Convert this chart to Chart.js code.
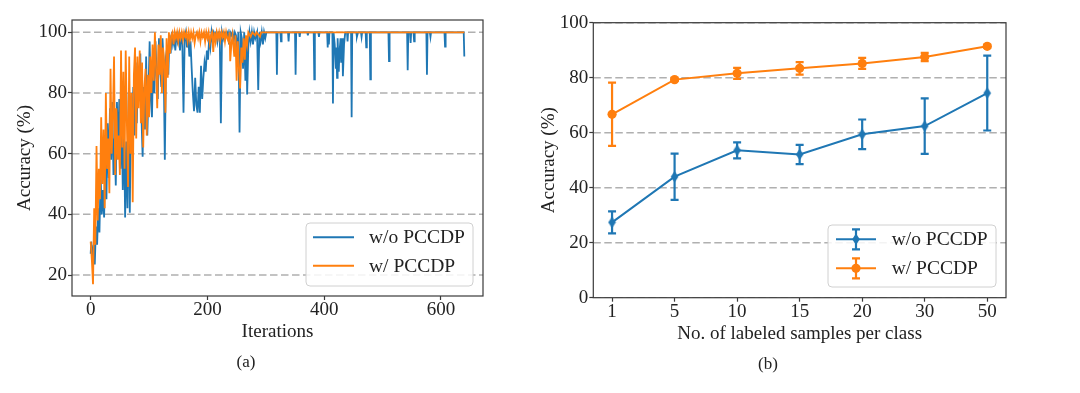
<!DOCTYPE html>
<html>
<head>
<meta charset="utf-8">
<script src="https://cdn.jsdelivr.net/npm/chart.js@4.4.0/dist/chart.umd.min.js"></script>
<style>
  html, body { margin: 0; padding: 0; background: #fff; }
  body { width: 1080px; height: 393px; position: relative; overflow: hidden;
         font-family: "Liberation Serif", "DejaVu Serif", serif; }
  canvas { position: absolute; top: 0; }
  #chartA { left: 0; }
  #chartB { left: 530px; }
  .cap { position: absolute; font-size: 17px; color: #222; transform: translate(-50%, -50%); }
</style>
</head>
<body>
<canvas id="chartA" width="540" height="393"></canvas>
<canvas id="chartB" width="550" height="393"></canvas>
<div class="cap" style="left:246px;top:362px">(a)</div>
<div class="cap" style="left:768px;top:364px">(b)</div>
<script>
var BLUE = '#1f77b4', ORANGE = '#ff7f0e';
var SERIF = '"Liberation Serif", "Times New Roman", serif';
var seriesNames = ['w/o PCCDP', 'w/ PCCDP'];

// ---- (a) accuracy over training iterations ----
var iterTicks = [0, 200, 400, 600];
var accTicksA = [20, 40, 60, 80, 100];

var woIter = [
  0, 1, 3, 5, 7, 9, 11, 13, 15, 17,
  19, 21, 23, 25, 27, 29, 31, 33, 35, 37,
  39, 41, 43, 45, 47, 49, 51, 53, 55, 57,
  59, 61, 63, 65, 67, 69, 71, 73, 75, 77,
  79, 81, 83, 85, 87, 89, 91, 93, 95, 97,
  99, 101, 103, 105, 107, 109, 111, 113, 115, 117,
  119, 121, 123, 125, 127, 129, 131, 133, 135, 137,
  139, 141, 143, 145, 147, 149, 151, 153, 155, 157,
  159, 161, 163, 165, 167, 169, 171, 173, 175, 177,
  179, 181, 183, 185, 187, 189, 191, 193, 195, 197,
  199, 201, 203, 205, 207, 209, 211, 213, 215, 217,
  219, 221, 223, 225, 227, 229, 231, 233, 235, 237,
  239, 241, 243, 245, 247, 249, 251, 253, 255, 257,
  259, 261, 263, 265, 267, 268, 270, 272, 274, 276,
  278, 280, 282, 285, 287, 289, 291, 293, 295, 297,
  299, 301, 318, 319, 320, 325, 326, 327, 338, 339,
  340, 350, 351, 352, 357, 358, 359, 371, 372, 373,
  382, 383, 384, 390, 391, 392, 405, 406, 407, 408,
  409, 414, 415, 416, 418, 420, 421, 422, 423, 425,
  426, 428, 429, 431, 432, 434, 436, 439, 440, 441,
  446, 447, 448, 455, 456, 458, 463, 464, 465, 471,
  472, 473, 478, 479, 480, 510, 511, 512, 542, 543,
  544, 547, 548, 549, 553, 554, 555, 575, 576, 577,
  581, 582, 583, 606, 607, 608, 639, 640
];
var woAcc = [
  27, 31, 25, 30, 23.5, 36, 30, 42, 34, 53,
  40, 48, 39, 60, 45, 70, 52, 75, 58, 77,
  53, 65, 49.5, 77, 60, 78, 55, 72, 48, 70,
  39, 64, 42, 80, 40.5, 75, 62, 82, 66, 90,
  70, 88, 78, 93, 72, 59, 82, 68, 92, 66,
  80, 97, 78, 72, 92, 80, 97, 86, 78, 98,
  88, 82, 98, 90, 58, 92, 95, 86, 99, 93,
  100, 96, 98, 94, 100, 97, 99, 94, 100, 96,
  73.5, 98, 100, 95, 99, 92, 97, 88, 80, 74,
  85, 76, 73.5, 82, 73.5, 89, 78, 85, 90, 87,
  94, 91, 98, 95, 100, 97, 100, 99, 100, 97,
  100, 100, 70, 100, 98, 100, 100, 99, 100, 96,
  100, 99, 100, 97, 100, 99, 93, 100, 67, 100,
  98, 88, 100, 84, 96, 79.5, 95, 100, 97, 100,
  96, 100, 98, 100, 81, 100, 97, 100, 96, 100,
  98, 100, 100, 86, 100, 100, 97, 100, 100, 97,
  100, 100, 86, 100, 100, 98.5, 100, 100, 99, 100,
  100, 84.5, 100, 100, 98.5, 100, 100, 95, 100, 96,
  100, 100, 76.5, 100, 96, 88, 95, 85, 98, 87,
  93, 98, 90, 98, 85.5, 96, 100, 100, 97, 100,
  100, 72, 100, 100, 98.5, 100, 100, 98.5, 100, 100,
  95, 100, 100, 84.5, 100, 100, 90.5, 100, 100, 87.5,
  100, 100, 96.5, 100, 100, 97, 100, 100, 86, 100,
  100, 98.5, 100, 100, 95.3, 100, 100, 92
];

var wIter = [
  0, 2, 4, 6, 8, 10, 12, 14, 16, 18,
  20, 22, 24, 26, 28, 30, 32, 34, 36, 38,
  40, 42, 44, 46, 48, 50, 52, 54, 56, 58,
  60, 62, 64, 66, 68, 70, 72, 74, 76, 78,
  80, 82, 84, 86, 88, 90, 92, 94, 96, 98,
  100, 102, 104, 106, 108, 110, 112, 114, 116, 118,
  120, 122, 124, 126, 128, 130, 132, 134, 136, 138,
  140, 142, 144, 146, 148, 150, 152, 154, 156, 158,
  160, 162, 164, 166, 168, 170, 172, 174, 176, 178,
  180, 182, 184, 186, 188, 190, 192, 194, 196, 198,
  200, 202, 204, 206, 208, 210, 212, 214, 216, 218,
  220, 222, 224, 226, 228, 230, 232, 234, 236, 238,
  239, 241, 243, 246, 248, 250, 252, 254, 256, 258,
  260, 262, 264, 266, 268, 270, 274, 277, 282, 284,
  290, 292, 640
];
var wAcc = [
  31, 25, 17, 42, 30, 62.5, 38, 55, 45, 72,
  50, 68, 42, 80, 55, 65, 47, 88, 60, 72,
  92, 53, 75, 58, 66, 53, 94, 62, 87, 55,
  94, 70, 49, 92, 60, 80, 44, 86, 95, 65,
  92, 75, 94, 70, 90, 62, 82, 88, 66, 86,
  72, 92, 80, 96, 84, 100, 88, 75, 96, 86,
  99, 80, 95, 90, 73.5, 98, 85, 100, 93, 99,
  100, 96, 100, 98, 100, 97, 100, 98, 100, 97.5,
  100, 98.5, 100, 97, 100, 97.5, 100, 98, 100, 96.5,
  99, 100, 98, 100, 97, 100, 98.5, 100, 97, 100,
  98, 100, 96.5, 99, 100, 93.5, 100, 97, 100, 98,
  100, 97.5, 100, 98.5, 100, 97, 100, 98, 97, 100,
  90.5, 96, 99, 92, 99, 84, 97, 88, 81.5, 95,
  90, 98, 91, 99, 96, 100, 98.5, 100, 99, 100,
  98.5, 100, 100
];

// ---- (b) accuracy vs. labeled samples ----
var sampleLabels = ['1', '5', '10', '15', '20', '30', '50'];
var accTicksB = [0, 20, 40, 60, 80, 100];
var woMean = [27.4, 44.0, 53.6, 52.1, 59.4, 62.4, 74.4];
var woErr  = [4.0, 8.4, 2.9, 3.5, 5.4, 10.1, 13.6];
var wMean  = [66.7, 79.3, 81.6, 83.4, 85.2, 87.5, 91.4];
var wErr   = [11.5, 0.5, 2.0, 2.3, 2.0, 1.5, 0.6];

Chart.defaults.font.family = SERIF;
Chart.defaults.color = '#222';

function pairs(xs, ys) {
  return xs.map(function(x, i) { return { x: x, y: ys[i] }; });
}

function fixedTicks(list) {
  return function(scale) {
    scale.ticks = list.map(function(v) { return { value: v }; });
  };
}

// thin diamond marker like matplotlib 'd'
function diamondPath(ctx, x, y, hw, hh) {
  ctx.beginPath();
  ctx.moveTo(x, y - hh);
  ctx.lineTo(x + hw, y);
  ctx.lineTo(x, y + hh);
  ctx.lineTo(x - hw, y);
  ctx.closePath();
}
function diamondImage(color) {
  var c = document.createElement('canvas');
  c.width = 9; c.height = 13;
  var g = c.getContext('2d');
  g.fillStyle = color;
  diamondPath(g, 4.5, 6.5, 3.8, 5.8);
  g.fill();
  return c;
}

// dashed y grid + dark frame, matplotlib look
var framePlugin = {
  id: 'frame',
  beforeDatasetsDraw: function(chart) {
    var ctx = chart.ctx, a = chart.chartArea, ys = chart.scales.y;
    ctx.save();
    ctx.beginPath();
    ctx.rect(a.left, a.top, a.right - a.left, a.bottom - a.top);
    ctx.clip();
    ctx.strokeStyle = '#b0b0b0';
    ctx.lineWidth = 1.5;
    ctx.setLineDash([7.5, 3.5]);
    ys.ticks.forEach(function(t) {
      var py = ys.getPixelForValue(t.value);
      ctx.beginPath();
      ctx.moveTo(a.left, py);
      ctx.lineTo(a.right, py);
      ctx.stroke();
    });
    ctx.restore();
  },
  afterDraw: function(chart) {
    var ctx = chart.ctx, a = chart.chartArea;
    ctx.save();
    ctx.strokeStyle = '#3a3a3a';
    ctx.lineWidth = 1.2;
    ctx.strokeRect(a.left, a.top, a.right - a.left, a.bottom - a.top);
    ctx.restore();
  }
};

function legendBox(ctx, x, y, w, h) {
  ctx.save();
  ctx.fillStyle = 'rgba(255,255,255,0.85)';
  ctx.strokeStyle = '#d0d0d0';
  ctx.lineWidth = 1;
  ctx.beginPath();
  ctx.roundRect(x, y, w, h, 4);
  ctx.fill();
  ctx.stroke();
  ctx.restore();
}

function axisOptions(ticksList, sizeKey, size, titleText, titlePad, extra) {
  var o = {
    type: 'linear',
    afterBuildTicks: fixedTicks(ticksList),
    afterFit: function(s) { s[sizeKey] = size; },
    grid: { drawOnChartArea: false, drawTicks: true, tickLength: 4, tickColor: '#3a3a3a', tickWidth: 1.2 },
    border: { display: false },
    ticks: { font: { size: 19, lineHeight: 1 }, color: '#222', padding: 1, autoSkip: false, maxRotation: 0 },
    title: { display: true, text: titleText, font: { size: 19, lineHeight: 1.2 }, color: '#222', padding: titlePad }
  };
  for (var k in extra) o[k] = extra[k];
  return o;
}

// ---------- chart (a) ----------
var legendA = {
  id: 'legendA',
  afterDraw: function(chart) {
    var ctx = chart.ctx;
    legendBox(ctx, 306, 223, 167, 63);
    var rows = [[BLUE, 237.3], [ORANGE, 265.7]];
    ctx.save();
    rows.forEach(function(r, i) {
      ctx.strokeStyle = r[0];
      ctx.lineWidth = 2;
      ctx.beginPath();
      ctx.moveTo(313, r[1]);
      ctx.lineTo(354, r[1]);
      ctx.stroke();
      ctx.fillStyle = '#222';
      ctx.font = '19.5px ' + SERIF;
      ctx.textBaseline = 'middle';
      ctx.fillText(seriesNames[i], 369, r[1] + 1);
    });
    ctx.restore();
  }
};

new Chart(document.getElementById('chartA'), {
  type: 'line',
  data: {
    datasets: [
      { label: seriesNames[0], data: pairs(woIter, woAcc), borderColor: BLUE, borderWidth: 1.8,
        pointRadius: 0, tension: 0, order: 1 },
      { label: seriesNames[1], data: pairs(wIter, wAcc), borderColor: ORANGE, borderWidth: 1.8,
        pointRadius: 0, tension: 0, order: 0 }
    ]
  },
  options: {
    responsive: false,
    animation: false,
    events: [],
    layout: { padding: { left: 10, top: 20, right: 57, bottom: 50 } },
    plugins: { legend: { display: false }, tooltip: { enabled: false } },
    scales: {
      x: axisOptions(iterTicks, 'height', 47, 'Iterations', { top: 0, bottom: 0 },
                     { min: -32, max: 672, position: 'bottom' }),
      y: axisOptions(accTicksA, 'width', 62, 'Accuracy (%)', { top: 3.6, bottom: 0 },
                     { min: 13.1, max: 104.05, position: 'left' })
    }
  },
  plugins: [framePlugin, legendA]
});

// ---------- chart (b) ----------
var bands = [[woMean, woErr, BLUE], [wMean, wErr, ORANGE]];

var errorBars = {
  id: 'errorBars',
  beforeDatasetsDraw: function(chart) {
    var ctx = chart.ctx, xs = chart.scales.x, ys = chart.scales.y;
    ctx.save();
    bands.forEach(function(b) {
      ctx.strokeStyle = b[2];
      ctx.lineWidth = 2.2;
      b[0].forEach(function(m, i) {
        var px = xs.getPixelForValue(i);
        var top = ys.getPixelForValue(m + b[1][i]);
        var bot = ys.getPixelForValue(m - b[1][i]);
        ctx.beginPath();
        ctx.moveTo(px, top); ctx.lineTo(px, bot);
        ctx.moveTo(px - 4, top); ctx.lineTo(px + 4, top);
        ctx.moveTo(px - 4, bot); ctx.lineTo(px + 4, bot);
        ctx.stroke();
      });
    });
    ctx.restore();
  }
};

var legendB = {
  id: 'legendB',
  afterDraw: function(chart) {
    var ctx = chart.ctx;
    legendBox(ctx, 298, 225, 168, 62);
    var rows = [[BLUE, 239.3], [ORANGE, 268.3]];
    ctx.save();
    rows.forEach(function(r, i) {
      var cx = 326, cy = r[1];
      ctx.strokeStyle = r[0];
      ctx.fillStyle = r[0];
      ctx.lineWidth = 2;
      ctx.beginPath();
      ctx.moveTo(306, cy); ctx.lineTo(346, cy);
      ctx.stroke();
      ctx.lineWidth = 2.2;
      ctx.beginPath();
      ctx.moveTo(cx, cy - 10); ctx.lineTo(cx, cy + 10);
      ctx.moveTo(cx - 4, cy - 10); ctx.lineTo(cx + 4, cy - 10);
      ctx.moveTo(cx - 4, cy + 10); ctx.lineTo(cx + 4, cy + 10);
      ctx.stroke();
      if (i === 0) {
        diamondPath(ctx, cx, cy, 3.8, 5.8);
      } else {
        ctx.beginPath();
        ctx.arc(cx, cy, 4.6, 0, Math.PI * 2);
      }
      ctx.fill();
      ctx.fillStyle = '#222';
      ctx.font = '19.5px ' + SERIF;
      ctx.textBaseline = 'middle';
      ctx.fillText(seriesNames[i], 361.7, cy + 1);
    });
    ctx.restore();
  }
};

new Chart(document.getElementById('chartB'), {
  type: 'line',
  data: {
    datasets: [
      { label: seriesNames[0], data: pairs([0, 1, 2, 3, 4, 5, 6], woMean), borderColor: BLUE,
        backgroundColor: BLUE, borderWidth: 2, pointStyle: diamondImage(BLUE), pointRadius: 5,
        tension: 0, order: 1 },
      { label: seriesNames[1], data: pairs([0, 1, 2, 3, 4, 5, 6], wMean), borderColor: ORANGE,
        backgroundColor: ORANGE, borderWidth: 2, pointStyle: 'circle', pointRadius: 4.6,
        pointBorderWidth: 0, tension: 0, order: 0 }
    ]
  },
  options: {
    responsive: false,
    animation: false,
    events: [],
    layout: { padding: { left: 7.6, top: 22.7, right: 74, bottom: 47.3 } },
    plugins: { legend: { display: false }, tooltip: { enabled: false } },
    scales: {
      x: axisOptions([0, 1, 2, 3, 4, 5, 6], 'height', 48, 'No. of labeled samples per class', { top: 0, bottom: 0 },
                     { min: -0.3, max: 6.3, position: 'bottom' }),
      y: axisOptions(accTicksB, 'width', 55.7, 'Accuracy (%)', { top: 0, bottom: 0 },
                     { min: 0, max: 100, position: 'left' })
    }
  },
  plugins: [framePlugin, errorBars, legendB]
});
Chart.getChart('chartB').options.scales.x.ticks.callback = function(v) { return sampleLabels[v]; };
Chart.getChart('chartB').update('none');
</script>
</body>
</html>
